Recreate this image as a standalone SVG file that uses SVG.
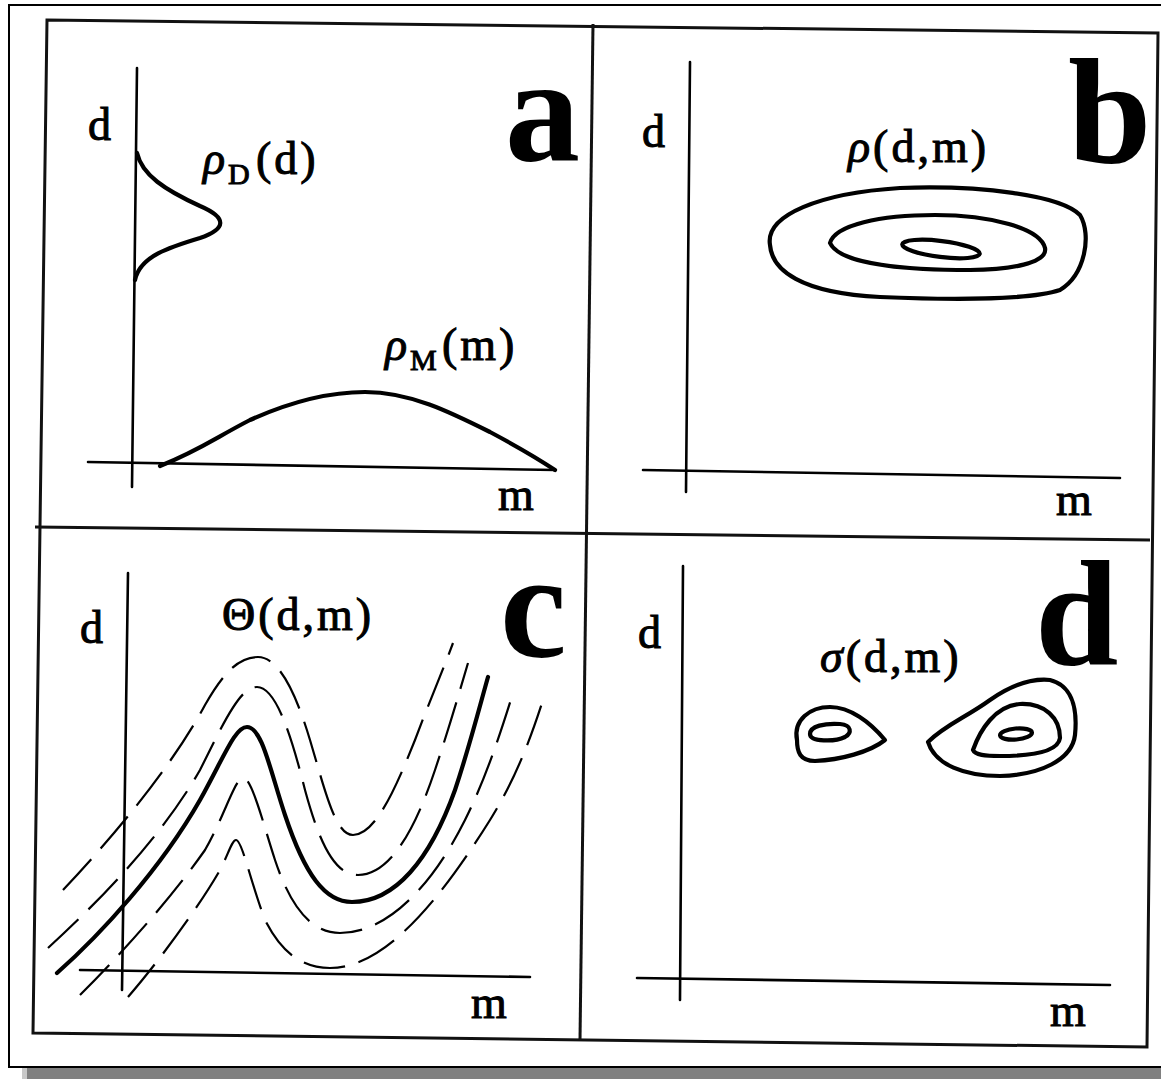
<svg xmlns="http://www.w3.org/2000/svg" width="1161" height="1079" viewBox="0 0 1161 1079">
<style>
.ax{stroke:#000;stroke-width:2.6;fill:none;stroke-linecap:round}
.fr{stroke:#111;stroke-width:3;fill:none}
.cv{stroke:#000;stroke-width:4.2;fill:none;stroke-linecap:round;stroke-linejoin:round}
.ds{stroke:#000;stroke-width:2.2;fill:none;stroke-dasharray:42 14}
.lb{font-family:"Liberation Serif",serif;font-size:46px;fill:#000;stroke:#000;stroke-width:1;letter-spacing:3px}
.big{font-family:"Liberation Serif",serif;font-size:150px;font-weight:bold;fill:#000}
</style>
<rect width="1161" height="1079" fill="#fff"/>
<g id="page">
<rect x="22" y="1068" width="1139" height="11" fill="#808080"/>
<rect x="22" y="1068" width="5" height="11" fill="#c8c8c8"/>
<path d="M1163,5 L9,5 L9,1067 L1163,1067" stroke="#000" stroke-width="2" fill="none"/>
<path class="fr" d="M47,20 L1158,33 L1147,1047 L33,1033 Z"/>
<line class="fr" x1="593" y1="24" x2="580" y2="1040"/>
<line class="fr" x1="35" y1="527" x2="1150" y2="540"/>
</g>
<g id="panel-a">
<line class="ax" x1="137" y1="68" x2="132" y2="487"/>
<line class="ax" x1="88" y1="462" x2="555" y2="470"/>
<path class="cv" d="M137,153 C142,175 165,190 200,206 C228,218 226,229 200,238 C170,247 140,256 135,280"/>
<path class="cv" d="M160,466 C200,450 215,438 250,420 C290,402 330,392 365,392 C410,392 450,412 490,432 C520,448 540,460 555,470"/>
<text class="lb" x="88" y="140">d</text>
<text class="lb" x="498" y="510">m</text>
<text class="lb" x="203" y="174"><tspan font-style="italic">ρ</tspan><tspan font-size="30" dy="10">D</tspan><tspan x="256" dy="-10">(d)</tspan></text>
<text class="lb" x="385" y="360"><tspan font-style="italic">ρ</tspan><tspan font-size="30" dy="10">M</tspan><tspan x="442" dy="-10">(m)</tspan></text>
<text class="big" x="505" y="160">a</text>
</g>
<g id="panel-b">
<line class="ax" x1="690" y1="62" x2="686" y2="492"/>
<line class="ax" x1="643" y1="470" x2="1120" y2="478"/>
<path class="cv" d="M770,245 C765,215 820,193 900,188 C980,185 1060,195 1080,215 C1092,235 1085,275 1060,290 C1030,300 950,300 880,297 C800,293 772,270 770,245 Z"/>
<path class="cv" d="M830,243 C835,225 880,215 935,215 C990,215 1040,228 1045,248 C1048,263 1010,270 970,270 C910,270 840,265 830,243 Z"/>
<ellipse class="cv" cx="941" cy="249" rx="39" ry="8" transform="rotate(7 941 249)"/>
<text class="lb" x="642" y="147">d</text>
<text class="lb" x="1056" y="515">m</text>
<text class="lb" x="848" y="162"><tspan font-style="italic">ρ</tspan>(d,m)</text>
<text class="big" x="1068" y="163">b</text>
</g>
<g id="panel-c">
<line class="ax" x1="128" y1="573" x2="122" y2="990"/>
<line class="ax" x1="80" y1="970" x2="530" y2="977"/>
<path class="ds" d="M63,890 C110,840 170,770 205,705 C225,670 240,657 258,657 C278,657 295,690 310,740 C325,790 335,835 353,835 C375,835 395,790 415,740 C430,700 443,670 453,643"/>
<path class="ds" d="M48,948 C95,905 160,840 200,770 C225,720 240,687 257,687 C275,687 290,730 305,790 C320,845 335,875 358,875 C390,875 415,830 435,770 C450,725 460,690 468,663"/>
<path class="cv" stroke-width="5.5" d="M57,973 C100,935 160,870 200,800 C225,755 235,727 247,727 C262,727 270,770 285,815 C305,875 325,902 352,902 C395,902 430,860 455,790 C470,745 480,705 488,677"/>
<path class="ds" d="M80,995 C120,955 170,900 205,850 C225,815 235,778 243,778 C252,778 262,820 275,860 C290,905 310,933 340,933 C385,933 430,890 465,820 C485,780 500,735 513,693"/>
<path class="ds" d="M128,997 C160,960 200,905 220,870 C228,855 232,840 236,840 C242,840 250,880 265,920 C280,950 300,968 330,968 C385,968 440,900 490,820 C515,780 530,740 542,703"/>
<text class="lb" x="80" y="643">d</text>
<text class="lb" x="471" y="1018">m</text>
<text class="lb" x="222" y="630">Θ(d,m)</text>
<text class="big" x="500" y="657">c</text>
</g>
<g id="panel-d">
<line class="ax" x1="683" y1="566" x2="680" y2="1000"/>
<line class="ax" x1="637" y1="978" x2="1110" y2="985"/>
<path class="cv" d="M797,740 C793,720 810,707 830,707 C850,707 870,722 885,740 C870,752 840,760 815,761 C800,761 797,752 797,740 Z"/>
<path class="cv" d="M810,734 C810,726 825,723 840,724 C852,725 852,733 845,737 C835,742 810,742 810,734 Z"/>
<path class="cv" d="M928,742 C945,725 965,718 990,700 C1010,686 1030,678 1050,680 C1070,685 1078,705 1075,735 C1072,760 1040,775 1000,776 C965,776 935,765 928,742 Z"/>
<path class="cv" d="M973,750 C980,730 995,706 1020,704 C1045,703 1060,718 1060,738 C1058,752 1030,756 1000,756 C985,756 975,755 973,750 Z"/>
<ellipse class="cv" cx="1016" cy="734" rx="16" ry="5.5" transform="rotate(-5 1016 734)"/>
<text class="lb" x="638" y="648">d</text>
<text class="lb" x="1050" y="1026">m</text>
<text class="lb" x="820" y="672"><tspan font-style="italic">σ</tspan>(d,m)</text>
<text class="big" x="1035" y="665">d</text>
</g>
</svg>
